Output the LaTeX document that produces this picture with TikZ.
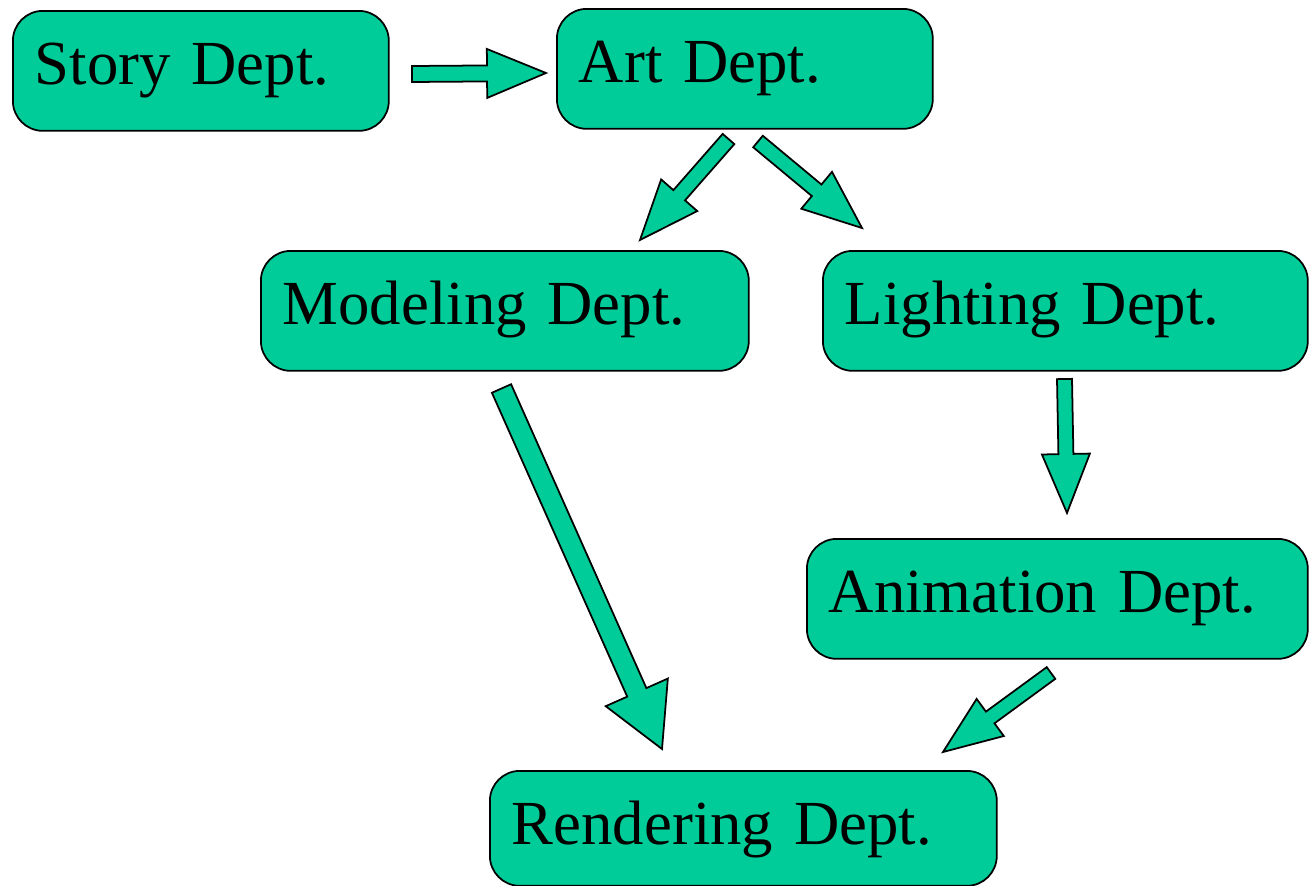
\documentclass[tikz,border=0pt]{standalone}
\usepackage{fontspec}
\setmainfont{Liberation Serif}
\usetikzlibrary{calc}
\definecolor{deptgreen}{HTML}{00CC99}
\tikzset{
  dept/.style={draw, line width=1pt, fill=deptgreen, rounded corners=.6cm,
    anchor=north west, align=left, inner xsep=.44cm, inner ysep=0pt,
    text height=1.47cm, text depth=.93cm, font=\fontsize{35.7}{40}\selectfont},
  blockarrow/.style={draw, line width=1pt, fill=deptgreen, line join=miter}
}
% fat arrow: tail #1, tip #2, shaft half width #3, head half width #4, head length #5
\newcommand{\blockarrow}[5]{%
  \path ($(#2)!#5!(#1)$) coordinate (hb);
  \draw[blockarrow] ($(#1)!#3!90:(#2)$) -- ($(hb)!#3!90:(#2)$)
    -- ($(hb)!#4!90:(#2)$) -- (#2) -- ($(hb)!#4!-90:(#2)$)
    -- ($(hb)!#3!-90:(#2)$) -- ($(#1)!#3!-90:(#2)$) -- cycle;
}

\begin{document}
\begin{tikzpicture}[x=.02cm,y=-.02cm]
  \useasboundingbox (0,0) rectangle (1309,886);

  \node[dept, text width=6.64cm] (story) at (12,10) {Story Dept.};
  \node[dept, text width=6.64cm] (art) at (556,8) {Art Dept.};
  \node[dept, text width=8.88cm] (modeling) at (260,250) {Modeling Dept.};
  \node[dept, text width=8.82cm] (lighting) at (822,250) {Lighting Dept.};
  \node[dept, text width=9.14cm] (animation) at (806,538) {Animation Dept.};
  \node[dept, text width=9.26cm, text depth=.83cm] (rendering) at (489,770) {Rendering Dept.};

  % arrow ends
  \coordinate (story-out) at (412,74);
  \coordinate (art-in) at (546,73);
  \coordinate (art-out1) at (728.5,139);
  \coordinate (modeling-in) at (640,240);
  \coordinate (art-out2) at (758,141.5);
  \coordinate (lighting-in) at (862,228);
  \coordinate (modeling-out) at (501.5,388.5);
  \coordinate (rendering-in1) at (662,749);
  \coordinate (lighting-out) at (1064.5,379);
  \coordinate (animation-in) at (1067,513);
  \coordinate (animation-out) at (1051,673);
  \coordinate (rendering-in2) at (943,752);

  \foreach \a/\b/\s/\h/\l in {
      story-out/art-in/.16cm/.49cm/1.18cm,
      art-out1/modeling-in/.155cm/.48cm/1.19cm,
      art-out2/lighting-in/.15cm/.48cm/1.18cm,
      modeling-out/rendering-in1/.21cm/.68cm/1.24cm,
      lighting-out/animation-in/.15cm/.48cm/1.18cm,
      animation-out/rendering-in2/.145cm/.46cm/1.17cm} {
    \blockarrow{\a}{\b}{\s}{\h}{\l}
  }
\end{tikzpicture}
\end{document}
